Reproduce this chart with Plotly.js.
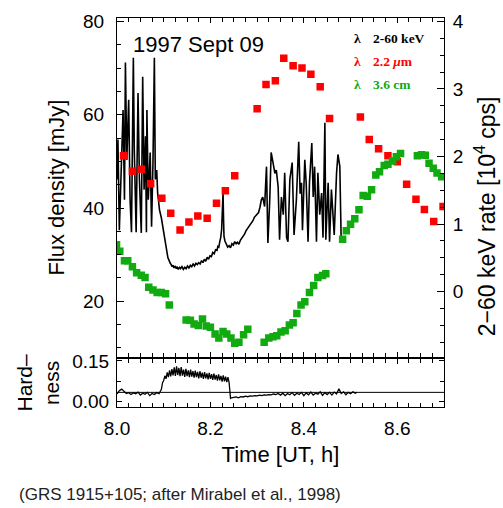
<!DOCTYPE html>
<html><head><meta charset="utf-8">
<script src="https://cdn.plot.ly/plotly-3.0.1.min.js"></script>
<style>html,body{margin:0;padding:0;background:#fff;} #chart{width:503px;height:508px;}</style>
</head><body><div id="chart"></div>
<script>
// 2-60 keV X-ray count rate [10^4 cps] (right axis)
const xrayTime = [
8.000,8.002,8.005,8.008,8.010,8.013,8.016,8.018,8.021,8.025,8.028,8.031,8.035,8.037,8.041,8.045,8.048,8.052,8.055,8.058,8.061,8.063,8.064,8.067,8.071,8.074,8.077,8.080,8.082,8.085,8.087,8.091,8.095,
8.098,8.100,8.102,8.104,8.105,8.107,8.109,8.111,8.112,8.114,8.116,8.118,8.120,8.122,8.124,8.127,8.129,8.131,8.134,8.136,8.139,8.142,8.145,8.148,8.151,8.154,8.157,8.160,8.163,8.166,8.169,8.172,8.175,8.178,8.181,8.184,8.187,8.190,8.193,8.196,8.199,8.202,8.205,8.208,8.211,8.214,8.216,8.218,8.220,8.222,8.224,8.226,8.227,8.228,8.229,8.231,8.234,8.237,8.240,8.243,8.246,8.249,8.252,8.255,8.258,8.261,8.264,8.267,8.270,8.273,8.276,8.279,8.282,8.285,8.288,8.291,8.294,8.297,8.300,8.303,8.306,8.309,8.312,
8.316,8.320,8.323,8.327,8.330,8.334,8.338,8.341,8.345,8.348,8.352,8.356,8.359,8.363,8.366,8.370,8.375,8.379,8.384,8.389,8.392,8.395,8.397,8.402,8.405,8.409,8.412,8.417,8.420,8.423,8.427,8.430,8.434,8.438,8.441,8.445,8.447,8.452,8.455,8.459,8.465,8.470,8.473,8.477,8.480];
const xrayRate = [
1.66,2.25,0.91,1.55,1.80,2.69,1.36,3.39,1.95,2.84,1.36,0.88,3.46,2.10,0.88,2.94,1.66,0.87,3.18,1.51,2.30,0.88,2.69,1.36,2.06,0.96,1.90,3.46,1.66,1.80,1.46,1.21,1.09,
0.96,0.88,0.77,0.72,0.66,0.60,0.50,0.47,0.44,0.42,0.40,0.37,0.39,0.35,0.38,0.34,0.37,0.33,0.36,0.34,0.37,0.33,0.36,0.34,0.38,0.35,0.39,0.37,0.41,0.38,0.42,0.40,0.43,0.41,0.46,0.43,0.48,0.45,0.51,0.48,0.53,0.52,0.58,0.56,0.62,0.61,0.67,0.66,0.74,0.80,0.92,1.30,1.46,1.10,0.82,0.75,0.70,0.66,0.68,0.65,0.71,0.69,0.74,0.71,0.73,0.70,0.76,0.79,0.82,0.85,0.90,0.93,0.97,0.99,1.03,1.05,1.10,1.12,1.15,1.17,1.25,1.36,1.40,
1.26,1.85,0.72,1.36,2.06,1.91,1.75,1.80,1.55,0.77,1.40,1.14,1.76,0.80,0.74,1.66,1.91,0.84,1.36,2.22,1.45,1.61,0.91,1.95,1.61,0.74,1.61,2.20,1.40,1.85,0.74,1.76,1.14,1.46,0.80,2.50,0.77,1.61,0.74,1.51,0.84,1.76,2.03,1.85,0.72];

// 2.2 micron flux density [mJy]
const irTime = [8.014,8.033,8.052,8.072,8.096,8.115,8.135,8.154,8.173,8.193,8.213,8.232,8.252,8.300,8.319,8.339,8.357,8.377,8.396,8.415,8.435,8.455,8.521,8.540,8.560,8.580,8.600,8.620,8.640,8.658,8.678,8.698];
const irFlux = [51.2,47.9,48.3,45.2,42.1,38.9,35.3,37.0,38.3,37.8,41.0,43.7,46.9,61.3,66.5,67.3,72.1,70.5,70.0,68.7,66.0,59.2,59.5,54.7,52.7,51.2,49.9,45.1,41.9,39.7,37.1,40.3];

// 3.6 cm flux density [mJy]
const radioTime = [7.999,8.006,8.016,8.023,8.033,8.042,8.052,8.060,8.068,8.077,8.086,8.095,8.104,8.112,8.148,8.157,8.165,8.174,8.183,8.191,8.200,8.210,8.218,8.227,8.235,8.244,8.252,8.261,8.271,8.280,8.315,8.325,8.334,8.342,8.351,8.360,8.369,8.377,8.385,8.394,8.402,8.412,8.421,8.430,8.440,8.447,8.483,8.491,8.500,8.509,8.518,8.527,8.536,8.545,8.554,8.562,8.572,8.580,8.590,8.598,8.607,8.643,8.652,8.660,8.668,8.677,8.685,8.695];
const radioFlux = [32.1,30.7,28.7,28.7,27.4,26.1,25.6,25.1,23.0,22.4,21.9,21.9,21.6,19.2,16.0,15.9,15.1,14.8,16.2,14.7,14.4,13.0,12.1,13.5,13.0,12.1,11.0,11.2,12.8,14.0,11.2,12.1,12.4,12.6,13.4,13.7,14.9,15.4,17.4,19.2,19.9,21.9,23.4,25.1,25.5,25.9,33.3,35.1,36.5,37.7,39.6,42.7,42.5,43.9,47.1,47.8,49.1,49.4,50.1,51.0,51.7,51.2,51.4,51.3,49.6,48.5,47.5,46.7];

// Hardness ratio
const hardTime = [
8.000,8.005,8.010,8.015,8.020,8.025,8.030,8.035,8.040,8.045,8.050,8.055,8.060,8.065,8.070,8.075,8.080,8.085,8.090,
8.095,8.0975,8.100,8.1025,8.105,8.1075,8.110,8.1125,8.115,8.1175,8.120,8.1225,8.125,8.1275,8.130,8.1325,8.135,8.1375,8.140,8.1425,8.145,8.1475,8.150,8.1525,8.155,8.1575,8.160,8.1625,8.165,8.1675,8.170,8.1725,8.175,8.1775,8.180,8.1825,8.185,8.1875,8.190,8.1925,8.195,8.1975,8.200,8.2025,8.205,8.2075,8.210,8.2125,8.215,8.2175,8.220,8.2225,8.225,8.2275,8.230,8.2325,8.235,8.2375,8.240,8.2415,8.243,
8.245,8.250,8.255,8.260,8.265,8.270,8.275,8.280,8.285,8.290,8.295,8.300,8.305,8.310,8.315,8.320,8.325,8.330,8.335,8.340,8.345,8.350,8.355,8.360,8.365,8.370,8.375,8.380,8.385,8.390,8.395,8.400,8.405,8.410,8.415,8.420,8.425,8.430,8.435,8.440,8.445,8.450,8.455,8.460,8.465,8.470,8.475,8.480,8.485,8.490,8.495,8.500,8.505,8.510,8.513];
const hardValue = [
0.028,0.040,0.046,0.038,0.030,0.033,0.026,0.032,0.029,0.035,0.024,0.031,0.027,0.034,0.022,0.030,0.026,0.033,0.029,
0.045,0.070,0.078,0.095,0.084,0.108,0.090,0.115,0.093,0.120,0.097,0.126,0.095,0.130,0.098,0.124,0.094,0.127,0.096,0.118,0.091,0.121,0.094,0.115,0.090,0.118,0.092,0.112,0.088,0.114,0.090,0.110,0.086,0.112,0.088,0.107,0.084,0.109,0.086,0.104,0.082,0.106,0.084,0.101,0.080,0.103,0.081,0.098,0.077,0.100,0.078,0.095,0.074,0.097,0.075,0.092,0.072,0.090,0.070,0.040,0.012,
0.014,0.015,0.017,0.014,0.018,0.017,0.020,0.018,0.021,0.020,0.022,0.021,0.024,0.022,0.025,0.024,0.026,0.025,0.028,0.026,0.030,0.024,0.031,0.022,0.030,0.025,0.033,0.023,0.031,0.026,0.034,0.022,0.032,0.025,0.035,0.024,0.031,0.027,0.036,0.023,0.033,0.026,0.034,0.024,0.035,0.028,0.047,0.030,0.036,0.025,0.034,0.029,0.036,0.031,0.034];
const baselineTime = [8.0, 8.7];
const baselineHardness = [0.034, 0.034];

const xTickVals = [8.0, 8.2, 8.4, 8.6];
const xTickText = ['8.0', '8.2', '8.4', '8.6'];
const hardTickVals = [0, 0.15];
const hardTickText = ['0.00', '0.15'];

const legendItems = ['2-60 keV', '2.2 <i>μ</i>m', '3.6 cm'];
const legendColors = ['#000000', '#ff0000', '#11aa11'];

const sans = 'Liberation Sans, Arial, Helvetica, sans-serif';
const serif = 'Liberation Serif, Times New Roman, serif';
const tickFont = {family: sans, size: 19, color: '#000'};
const base = {showline: true, linecolor: '#000', linewidth: 1, ticks: 'inside', tickcolor: '#000',
  showgrid: false, zeroline: false, tickfont: tickFont, automargin: false};
const minorStyle = {ticks: 'inside', ticklen: 4, tickcolor: '#000', showgrid: false};

const traces = [
  {x: xrayTime, y: xrayRate, xaxis: 'x', yaxis: 'y2', type: 'scatter', mode: 'lines',
   line: {color: '#000', width: 1.6}, hoverinfo: 'skip'},
  {x: irTime, y: irFlux, xaxis: 'x', yaxis: 'y', type: 'scatter', mode: 'markers',
   marker: {symbol: 'square', size: 7.5, color: '#ff0000'}},
  {x: radioTime, y: radioFlux, xaxis: 'x', yaxis: 'y', type: 'scatter', mode: 'markers',
   marker: {symbol: 'square', size: 7.5, color: '#11aa11'}},
  {x: baselineTime, y: baselineHardness, xaxis: 'x2', yaxis: 'y3', type: 'scatter', mode: 'lines',
   line: {color: '#000', width: 1}},
  {x: hardTime, y: hardValue, xaxis: 'x2', yaxis: 'y3', type: 'scatter', mode: 'lines',
   line: {color: '#000', width: 1.3}}
];

const annotations = [
  {text: '1997 Sept 09', xref: 'paper', yref: 'paper', x: 0.043, y: 0.931, xanchor: 'left', yanchor: 'middle',
   showarrow: false, font: {family: sans, size: 22, color: '#000'}},
  {text: '2−60 keV rate [10<sup>4</sup> cps]', xref: 'paper', yref: 'paper', x: 1.128, y: 0.49,
   xanchor: 'center', yanchor: 'middle', textangle: -90, showarrow: false, font: {family: sans, size: 23, color: '#000'}},
  {text: '(GRS 1915+105; after Mirabel et al., 1998)', xref: 'paper', yref: 'paper', x: -0.306, y: -0.224,
   xanchor: 'left', yanchor: 'middle', showarrow: false, font: {family: sans, size: 17, color: '#222'}}
];
const legY = [0.948, 0.888, 0.828];
legendItems.forEach((t, i) => {
  annotations.push({text: '<b>λ</b>', xref: 'paper', yref: 'paper', x: 0.737, y: legY[i], xanchor: 'center', yanchor: 'middle',
    showarrow: false, font: {family: serif, size: 13.5, color: legendColors[i]}});
  annotations.push({text: '<b>' + t + '</b>', xref: 'paper', yref: 'paper', x: 0.778, y: legY[i], xanchor: 'left', yanchor: 'middle',
    showarrow: false, font: {family: serif, size: 13.5, color: legendColors[i]}});
});

const layout = {
  width: 503, height: 508, margin: {l: 117, r: 59, t: 18, b: 101},
  paper_bgcolor: '#fff', plot_bgcolor: 'rgba(0,0,0,0)', showlegend: false,
  xaxis: Object.assign({}, base, {domain: [0, 1], anchor: 'y2', range: [8, 8.7], tickmode: 'array',
    tickvals: xTickVals, ticktext: xTickText, showticklabels: false, ticklen: 5, mirror: 'ticks',
    minor: Object.assign({}, minorStyle, {tick0: 8, dtick: 0.025})}),
  yaxis2: Object.assign({}, base, {domain: [0.128, 1], anchor: 'x', side: 'right', range: [-0.97, 4.05],
    tick0: 0, dtick: 1, ticklen: 7, ticklabelstandoff: 4, minor: Object.assign({}, minorStyle, {tick0: 0, dtick: 0.25})}),
  yaxis: Object.assign({}, base, {overlaying: 'y2', anchor: 'x', side: 'left', range: [8, 80.75],
    tick0: 0, dtick: 20, ticklen: 7, ticklabelstandoff: 8, minor: Object.assign({}, minorStyle, {tick0: 0, dtick: 5}),
    title: {text: 'Flux density [mJy]', font: {family: sans, size: 22, color: '#000'}, standoff: 12}}),
  xaxis2: Object.assign({}, base, {domain: [0, 1], anchor: 'y3', range: [8, 8.7], tickmode: 'array',
    tickvals: xTickVals, ticktext: xTickText, ticklen: 5, mirror: 'ticks', ticklabelstandoff: 4,
    minor: Object.assign({}, minorStyle, {tick0: 8, dtick: 0.025}),
    title: {text: 'Time [UT, h]', font: {family: sans, size: 22, color: '#000'}, standoff: 8}}),
  yaxis3: Object.assign({}, base, {domain: [0, 0.124], anchor: 'x2', range: [-0.02, 0.158], tickmode: 'array',
    tickvals: hardTickVals, ticktext: hardTickText, ticklen: 5, mirror: 'ticks', ticklabelstandoff: 3,
    minor: Object.assign({}, minorStyle, {tick0: 0, dtick: 0.075}),
    title: {text: 'Hard–<br>ness', font: {family: sans, size: 21, color: '#000'}, standoff: 6}}),
  annotations: annotations
};

Plotly.newPlot('chart', traces, layout, {displayModeBar: false, staticPlot: true});
</script>
</body></html>
